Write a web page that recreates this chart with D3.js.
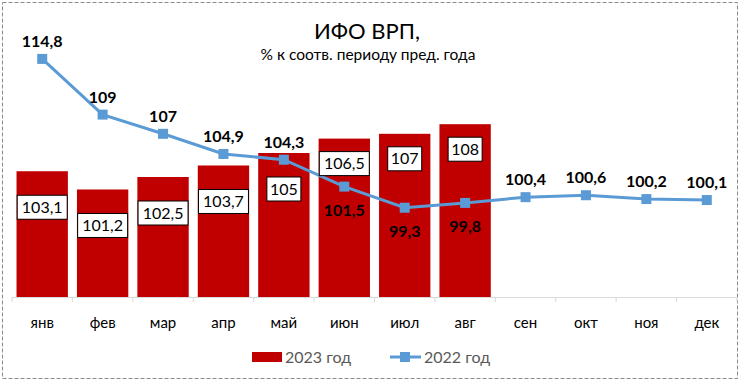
<!DOCTYPE html>
<html lang="ru">
  <head>
    <meta charset="utf-8">
    <title>ИФО ВРП</title>
    <script src="https://cdn.jsdelivr.net/npm/d3@7"></script>
    <style>
      body { margin: 0; background: #fff; }
      text { font-family: Lato, "Open Sans", sans-serif; }
    </style>
  </head>
  <body>
    <script>

      // months, bar series (2023) and line series (2022)
      var months = ["янв","фев","мар","апр","май","июн","июл","авг","сен","окт","ноя","дек"];
      var vals2023 = [103.1, 101.2, 102.5, 103.7, 105, 106.5, 107, 108];
      var vals2022 = [114.8, 109, 107, 104.9, 104.3, 101.5, 99.3, 99.8, 100.4, 100.6, 100.2, 100.1];
      var seriesNames = ["2023 год", "2022 год"];

      var W = 741, H = 384;
      var red = "#c00000", blue = "#5b9bd5";
      var fmt = function(v) { return String(v).replace(".", ","); };

      var svg = d3.select("body").append("svg")
                  .attr("width", W)
                  .attr("height", H);

      // dashed frame
      svg.append("rect")
         .attr("x", 2.5).attr("y", 2.5)
         .attr("width", 735).attr("height", 376)
         .attr("fill", "#fff")
         .attr("stroke", "#8c8c8c")
         .attr("stroke-dasharray", "4,2");

      var x = d3.scaleBand().domain(months).range([12, 737]).paddingInner(0.15).paddingOuter(0.075);
      var xc = function(m) { return x(m) + x.bandwidth() / 2; };
      var y = d3.scaleLinear().domain([90, 120]).range([297, 9]);

      // title
      svg.append("text").attr("x", 367).attr("y", 39).attr("text-anchor", "middle")
         .attr("font-size", 22).attr("fill", "#000").text("ИФО ВРП,");
      svg.append("text").attr("x", 368).attr("y", 60).attr("text-anchor", "middle")
         .attr("font-size", 15.5).attr("fill", "#000").text("% к соотв. периоду пред. года");

      // bars
      var barData = vals2023.map(function(v, i) { return { m: months[i], v: v, i: i }; });
      svg.selectAll("rect.bar")
         .data(barData)
         .enter().append("rect")
         .attr("class", "bar")
         .attr("x", function(d) { return x(d.m); })
         .attr("width", x.bandwidth())
         .attr("y", function(d) { return y(d.v); })
         .attr("height", function(d) { return y(90) - y(d.v); })
         .attr("fill", red);

      // x axis: line + ticks at category boundaries
      var step = x.step();
      svg.append("line").attr("x1", 12).attr("x2", 737).attr("y1", 297.5).attr("y2", 297.5)
         .attr("stroke", "#d9d9d9");
      svg.selectAll("line.tick")
         .data(d3.range(months.length + 1))
         .enter().append("line")
         .attr("class", "tick")
         .attr("x1", function(i) { return 12 + i * step; })
         .attr("x2", function(i) { return 12 + i * step; })
         .attr("y1", 297).attr("y2", 302)
         .attr("stroke", "#d9d9d9");
      svg.selectAll("text.xlab")
         .data(months)
         .enter().append("text")
         .attr("class", "xlab")
         .attr("x", function(m) { return xc(m); })
         .attr("y", 328)
         .attr("text-anchor", "middle")
         .attr("font-size", 15)
         .attr("fill", "#000")
         .text(function(m) { return m; });

      // line series
      var lineData = vals2022.map(function(v, i) { return { m: months[i], v: v, i: i }; });
      var line = d3.line().x(function(d) { return xc(d.m); }).y(function(d) { return y(d.v); });
      svg.append("path").datum(lineData)
         .attr("d", line)
         .attr("fill", "none")
         .attr("stroke", blue)
         .attr("stroke-width", 3);
      svg.selectAll("rect.mk")
         .data(lineData)
         .enter().append("rect")
         .attr("class", "mk")
         .attr("x", function(d) { return xc(d.m) - 5; })
         .attr("y", function(d) { return y(d.v) - 5; })
         .attr("width", 10).attr("height", 10)
         .attr("fill", blue);

      // line label goes below the marker where the bar stands clearly above it
      var below = function(i) { return i < vals2023.length && vals2023[i] - vals2022[i] > 1; };

      // bar labels in boxes
      var bl = svg.selectAll("g.blab")
         .data(barData)
         .enter().append("g")
         .attr("class", "blab")
         .attr("transform", function(d) {
           return "translate(" + xc(d.m) + "," + (y(d.v) + (below(d.i) ? 25 : 36)) + ")";
         });
      bl.append("rect")
        .attr("x", function(d) { return String(d.v).length > 3 ? -25 : -17; })
        .attr("width", function(d) { return String(d.v).length > 3 ? 50 : 34; })
        .attr("y", -12).attr("height", 24)
        .attr("fill", "#fff").attr("stroke", "#000").attr("stroke-width", 1);
      bl.append("text")
        .attr("text-anchor", "middle").attr("dy", "0.35em")
        .attr("font-size", 16).attr("fill", "#000")
        .text(function(d) { return fmt(d.v); });

      svg.selectAll("text.llab")
         .data(lineData)
         .enter().append("text")
         .attr("class", "llab")
         .attr("x", function(d) { return xc(d.m); })
         .attr("y", function(d) { return y(d.v) + (below(d.i) ? 29 : -12); })
         .attr("text-anchor", "middle")
         .attr("font-size", 16).attr("font-weight", "bold")
         .attr("fill", "#000")
         .text(function(d) { return fmt(d.v); });

      // legend
      var lg = svg.append("g").attr("transform", "translate(0,357)");
      lg.append("rect").attr("x", 252).attr("y", -5).attr("width", 30).attr("height", 10).attr("fill", red);
      lg.append("text").attr("x", 285).attr("y", 6).attr("font-size", 16).attr("fill", "#595959").text(seriesNames[0]);
      lg.append("line").attr("x1", 390).attr("x2", 421).attr("y1", 0).attr("y2", 0)
        .attr("stroke", blue).attr("stroke-width", 3);
      lg.append("rect").attr("x", 400).attr("y", -5).attr("width", 10).attr("height", 10).attr("fill", blue);
      lg.append("text").attr("x", 424).attr("y", 6).attr("font-size", 16).attr("fill", "#595959").text(seriesNames[1]);

    </script>
  </body>
</html>
